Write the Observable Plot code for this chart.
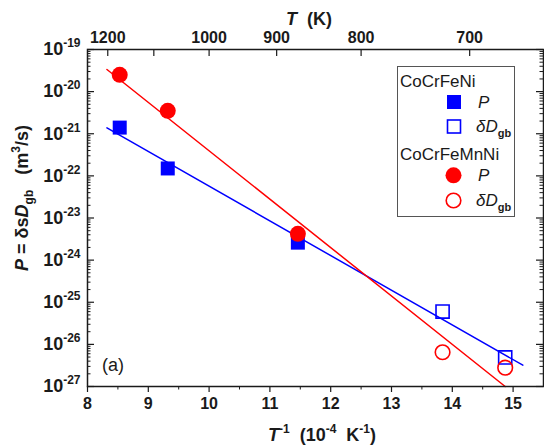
<!DOCTYPE html>
<html><head><meta charset="utf-8">
<script src="https://cdn.jsdelivr.net/npm/d3@7"></script>
<script src="https://cdn.jsdelivr.net/npm/@observablehq/plot@0.6"></script>
<style>
html,body{margin:0;padding:0;background:#fff;}
#chart{width:544px;height:448px;overflow:hidden;}
svg{display:block;}
</style></head><body><div id="chart"></div>
<script>
// ---- data ----
const invT_P = [8.53, 9.32, 11.46];          // 10^4/T for P points
const invT_D = [13.84, 14.87];               // 10^4/T for δDgb points
const niP = [1.4e-21, 1.5e-22, 2.6e-24];     // CoCrFeNi P
const niD = [6.0e-26, 4.9e-27];              // CoCrFeNi δDgb
const mnP = [2.5e-20, 3.5e-21, 4.2e-24];     // CoCrFeMnNi P
const mnD = [6.5e-27, 2.8e-27];              // CoCrFeMnNi δDgb
const niFitX = [8.32, 15.16];
const niFitY = [1.38e-21, 3.2e-27];
const mnFitX = [8.32, 14.87];
const mnFitY = [3.35e-20, 1.0e-27];
const xTicks = [8, 9, 10, 11, 12, 13, 14, 15];
const xMinor = [8.5, 9.5, 10.5, 11.5, 12.5, 13.5, 14.5];
const yExps = [-27, -26, -25, -24, -23, -22, -21, -20, -19];
const yMinorMult = [2, 3, 4, 5, 6, 7, 8, 9];
const topTemps = [1200, 1100, 1000, 900, 800, 700];
const topLabeled = [1200, 1000, 900, 800, 700];

// ---- layout ----
const W = 544, H = 448, mL = 87, mR = 1, mT = 49, mB = 62;
const fw = W - mL - mR, fh = H - mT - mB;
const FONT = "'Liberation Sans', Arial, sans-serif";
const BLUE = "#0000ff", RED = "#ff0000", INK = "#1a1a1a";

const yMajor = yExps.map(e => Math.pow(10, e));
const yMinor = yExps.slice(0, -1).flatMap(e => yMinorMult.map(m => m * Math.pow(10, e)));

const rows = (xs, ys) => xs.map((x, i) => ({x, y: ys[i]}));

const plot = Plot.plot({
  width: W, height: H,
  marginLeft: mL, marginRight: mR, marginTop: mT, marginBottom: mB,
  x: {domain: [8, 15.5], axis: null},
  y: {type: "log", domain: [1e-27, 1e-19], axis: null},
  style: {fontFamily: FONT, background: "#fff", color: INK},
  marks: [
    Plot.line(rows(niFitX, niFitY), {x: "x", y: "y", stroke: BLUE, strokeWidth: 1.5}),
    Plot.line(rows(mnFitX, mnFitY), {x: "x", y: "y", stroke: RED, strokeWidth: 1.5}),
    Plot.dot(rows(invT_D, niD), {x: "x", y: "y", symbol: "square", r: 7.4, stroke: BLUE, strokeWidth: 1.6, fill: "none"}),
    Plot.dot(rows(invT_D, mnD), {x: "x", y: "y", symbol: "circle", r: 7.3, stroke: RED, strokeWidth: 1.6, fill: "none"}),
    Plot.dot(rows(invT_P, niP), {x: "x", y: "y", symbol: "square", r: 7.9, fill: BLUE, stroke: "none"}),
    Plot.dot(rows(invT_P, mnP), {x: "x", y: "y", symbol: "circle", r: 8, fill: RED, stroke: "none"}),
    // left ticks (inward)
    Plot.tickY(yMajor, {y: d => d, insetRight: fw - 7, stroke: INK, strokeWidth: 1.2}),
    Plot.tickY(yMinor, {y: d => d, insetRight: fw - 3.5, stroke: INK, strokeWidth: 1}),
    // right ticks (inward)
    Plot.tickY(yMajor, {y: d => d, insetLeft: fw - 7, stroke: INK, strokeWidth: 1.2}),
    Plot.tickY(yMinor, {y: d => d, insetLeft: fw - 3.5, stroke: INK, strokeWidth: 1}),
    // bottom ticks (outward)
    Plot.tickX(xTicks, {x: d => d, insetTop: fh, insetBottom: -6, stroke: INK, strokeWidth: 1.2}),
    Plot.tickX(xMinor, {x: d => d, insetTop: fh, insetBottom: -3.5, stroke: INK, strokeWidth: 1}),
    // top ticks (inward), reciprocal temperature axis
    Plot.tickX(topTemps, {x: d => 1e4 / d, insetBottom: fh - 7, stroke: INK, strokeWidth: 1.2}),
    Plot.frame({stroke: INK, strokeWidth: 1.5}),
    // tick labels
    Plot.text(yMajor, {y: d => d, frameAnchor: "left", dx: -7, textAnchor: "end",
      text: d => "10^" + Math.round(Math.log10(d)), fontSize: 18, fontWeight: "bold", fill: INK}),
    Plot.text(xTicks, {x: d => d, frameAnchor: "bottom", dy: 11, lineAnchor: "top",
      text: d => String(d), fontSize: 16, fontWeight: "bold", fill: INK}),
    Plot.text(topLabeled, {x: d => 1e4 / d, frameAnchor: "top", dy: -7, lineAnchor: "bottom",
      text: d => String(d), fontSize: 16, fontWeight: "bold", fill: INK})
  ]
});

document.getElementById("chart").appendChild(plot);
const svg = d3.select(plot);

// superscripts in y tick labels
svg.selectAll("text").each(function () {
  const m = this.textContent.match(/^10\^(-?\d+)$/);
  if (!m) return;
  const t = d3.select(this);
  t.text("");
  t.append("tspan").text("10");
  t.append("tspan").attr("dy", "-8").attr("font-size", 12).text(m[1]);
});

function addText(parent, x, y, parts, opts = {}) {
  const t = parent.append("text").attr("x", x).attr("y", y)
    .attr("font-family", FONT).attr("fill", INK)
    .attr("font-size", opts.size || 18).attr("font-weight", opts.weight || "bold")
    .attr("text-anchor", opts.anchor || "start");
  if (opts.transform) t.attr("transform", opts.transform);
  let shift = 0;
  for (const p of parts) {
    const s = t.append("tspan").text(p.t);
    const target = p.dy || 0;
    if (target !== shift) { s.attr("dy", target - shift); shift = target; }
    if (p.size) s.attr("font-size", p.size);
    if (p.italic) s.attr("font-style", "italic");
    if (p.bold) s.attr("font-weight", "bold");
  }
  return t;
}

// axis titles
addText(svg, 309, 25, [{t: "T", italic: true}, {t: "  (K)"}], {anchor: "middle"});
addText(svg, 322, 441, [
  {t: "T", italic: true}, {t: "-1", dy: -8, size: 12}, {t: "  (10"},
  {t: "-4", dy: -8, size: 12}, {t: "  K"}, {t: "-1", dy: -8, size: 12}, {t: ")"}
], {anchor: "middle"});
addText(svg, 0, 0, [
  {t: "P", italic: true}, {t: " = δs"}, {t: "D", italic: true}, {t: "gb", dy: 5, size: 12},
  {t: "   (m"}, {t: "3", dy: -8, size: 12}, {t: "/s)"}
], {anchor: "middle", transform: "translate(28,198) rotate(-90)"});
addText(svg, 102, 371, [{t: "(a)"}], {weight: "normal", size: 18});

// legend
const lg = svg.append("g");
lg.append("rect").attr("x", 397.5).attr("y", 66.5).attr("width", 117).attr("height", 150)
  .attr("fill", "#fff").attr("stroke", "#555").attr("stroke-width", 1);
addText(lg, 400, 86.5, [{t: "CoCrFeNi"}], {weight: "normal", size: 17});
addText(lg, 400, 160, [{t: "CoCrFeMnNi"}], {weight: "normal", size: 17});
lg.append("rect").attr("x", 447).attr("y", 95).attr("width", 14).attr("height", 14).attr("fill", BLUE);
lg.append("rect").attr("x", 447.5).attr("y", 120).attr("width", 13).attr("height", 13)
  .attr("fill", "none").attr("stroke", BLUE).attr("stroke-width", 1.6);
lg.append("circle").attr("cx", 453.5).attr("cy", 175.3).attr("r", 8).attr("fill", RED);
lg.append("circle").attr("cx", 453.5).attr("cy", 200.5).attr("r", 7.3)
  .attr("fill", "none").attr("stroke", RED).attr("stroke-width", 1.6);
addText(lg, 478, 107.5, [{t: "P", italic: true}], {weight: "normal", size: 17});
addText(lg, 476, 132, [{t: "δD", italic: true}, {t: "gb", dy: 5, size: 11, bold: true}], {weight: "normal", size: 17});
addText(lg, 478, 180.5, [{t: "P", italic: true}], {weight: "normal", size: 17});
addText(lg, 476, 206, [{t: "δD", italic: true}, {t: "gb", dy: 5, size: 11, bold: true}], {weight: "normal", size: 17});
</script>
</body></html>
